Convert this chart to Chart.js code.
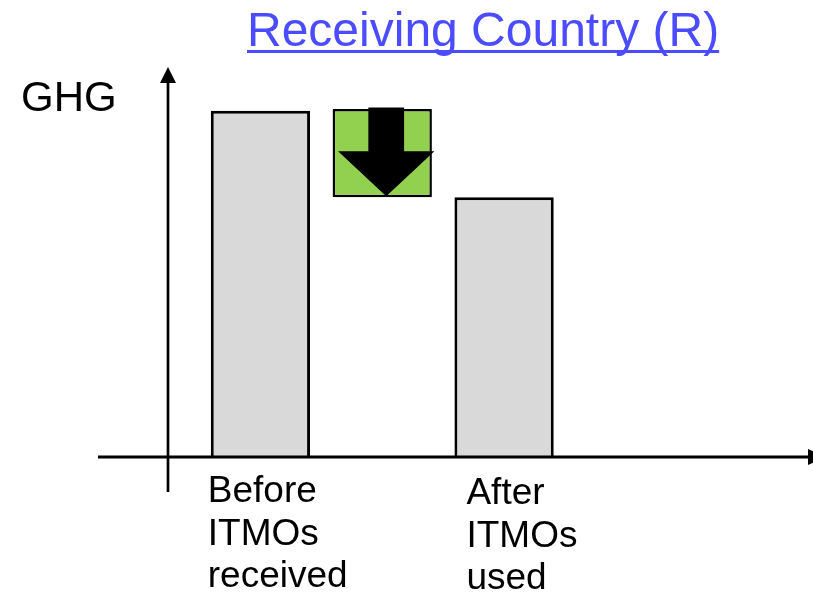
<!DOCTYPE html>
<html>
<head>
<meta charset="utf-8">
<script src="https://cdn.jsdelivr.net/npm/chart.js@4"></script>
<style>
  html, body { margin: 0; padding: 0; background: #fff; }
  #wrap { position: relative; width: 813px; height: 593px; overflow: hidden; }
  #c { position: absolute; left: 0; top: 0; }
  .title {
    position: absolute; left: 247px; top: 6px;
    font: 48px/48px "Liberation Sans", Arial, sans-serif;
    color: #4b4bff; white-space: nowrap;
    text-decoration: underline; text-decoration-thickness: 3px; text-underline-offset: 4px;
    text-decoration-skip-ink: none;
  }
  .ylab {
    position: absolute; left: 21px; top: 76px;
    font: 42px/42px "Liberation Sans", Arial, sans-serif; color: #000;
  }
</style>
</head>
<body>
<div id="wrap">
  <canvas id="c" width="813" height="593"></canvas>
  <div class="title">Receiving Country (R)</div>
  <div class="ylab">GHG</div>
</div>
<script>
// Categories along the horizontal axis (middle slot holds the transfer box)
const categories = [['Before', 'ITMOs', 'received'], '', ['After', 'ITMOs', 'used']];
// GHG level of the receiving country before and after using the ITMOs
const ghgBefore = [0, 100];
const ghgAfter = [0, 75];
// Span of the transferred ITMOs (green box)
const itmoTransfer = [75, 100.5];
const yRange = [0, 110];

const barColors = ['#d9d9d9', '#92d050', '#d9d9d9'];
const FONT = '"Liberation Sans", Arial, sans-serif';

// Axes drawn as arrows, crossing near the origin
const arrowAxes = {
  id: 'arrowAxes',
  afterDatasetsDraw(chart) {
    const { ctx, chartArea, scales: { y } } = chart;
    const y0 = y.getPixelForValue(0);
    const yTop = y.getPixelForValue(y.max);
    const ax = chartArea.left - 31.5;
    ctx.save();
    ctx.strokeStyle = '#000';
    ctx.fillStyle = '#000';
    ctx.lineWidth = 3;
    // horizontal axis
    ctx.beginPath();
    ctx.moveTo(ax - 70, y0);
    ctx.lineTo(chart.width - 3, y0);
    ctx.stroke();
    ctx.beginPath();
    ctx.moveTo(chart.width - 5, y0 - 8);
    ctx.lineTo(chart.width + 12, y0);
    ctx.lineTo(chart.width - 5, y0 + 8);
    ctx.closePath();
    ctx.fill();
    // vertical axis
    ctx.lineWidth = 2.7;
    ctx.beginPath();
    ctx.moveTo(ax, y0 + 35);
    ctx.lineTo(ax, yTop + 6);
    ctx.stroke();
    ctx.beginPath();
    ctx.moveTo(ax - 8, yTop + 7);
    ctx.lineTo(ax, yTop - 9);
    ctx.lineTo(ax + 8, yTop + 7);
    ctx.closePath();
    ctx.fill();
    ctx.restore();
  }
};

// Down arrow inside the transfer box
const downArrow = {
  id: 'downArrow',
  afterDatasetsDraw(chart) {
    const el = chart.getDatasetMeta(0).data[1];
    if (!el) return;
    const { x, y, base, width } = el.getProps(['x', 'y', 'base', 'width'], true);
    const top = Math.min(y, base), bottom = Math.max(y, base);
    const h = bottom - top;
    const cx = x + width * 0.04;
    const shaftHalf = width * 0.18;
    const headHalf = width * 0.485;
    const headY = top + h * 0.48;
    const { ctx } = chart;
    ctx.save();
    ctx.fillStyle = '#000';
    ctx.beginPath();
    ctx.moveTo(cx - shaftHalf, top - 1.5);
    ctx.lineTo(cx + shaftHalf, top - 1.5);
    ctx.lineTo(cx + shaftHalf, headY);
    ctx.lineTo(cx + headHalf, headY);
    ctx.lineTo(cx, bottom - 1);
    ctx.lineTo(cx - headHalf, headY);
    ctx.lineTo(cx - shaftHalf, headY);
    ctx.closePath();
    ctx.fill();
    ctx.restore();
  }
};

// Left-aligned multi-line category labels under the bars
const labelNudge = [{ dx: -3, dy: 45 }, null, { dx: 12, dy: 47 }];
const categoryLabels = {
  id: 'categoryLabels',
  afterDraw(chart) {
    const { ctx, scales: { y } } = chart;
    const y0 = y.getPixelForValue(0);
    const meta = chart.getDatasetMeta(0);
    ctx.save();
    ctx.fillStyle = '#000';
    ctx.font = '37px ' + FONT;
    ctx.textAlign = 'left';
    ctx.textBaseline = 'alphabetic';
    chart.data.labels.forEach((lab, i) => {
      const nudge = labelNudge[i];
      if (!nudge || !lab) return;
      const el = meta.data[i];
      const left = el.x - el.width / 2;
      const lines = Array.isArray(lab) ? lab : [lab];
      lines.forEach((t, k) => ctx.fillText(t, left + nudge.dx, y0 + nudge.dy + k * 42.5));
    });
    ctx.restore();
  }
};

new Chart(document.getElementById('c'), {
  type: 'bar',
  data: {
    labels: categories,
    datasets: [{
      data: [ghgBefore, itmoTransfer, ghgAfter],
      backgroundColor: barColors,
      borderColor: '#000',
      borderWidth: (c) => c.dataIndex === 1 ? 2.5 : 3,
      borderSkipped: (c) => c.dataIndex === 1 ? false : 'start',
      categoryPercentage: 1,
      barPercentage: 0.815
    }]
  },
  options: {
    responsive: false,
    animation: false,
    devicePixelRatio: 1,
    layout: { padding: { left: 199.5, right: 248, top: 76, bottom: 136 } },
    plugins: { legend: { display: false }, tooltip: { enabled: false }, title: { display: false } },
    scales: {
      x: { type: 'category', display: false },
      y: { display: false, min: yRange[0], max: yRange[1] }
    }
  },
  plugins: [arrowAxes, downArrow, categoryLabels]
});
</script>
</body>
</html>
